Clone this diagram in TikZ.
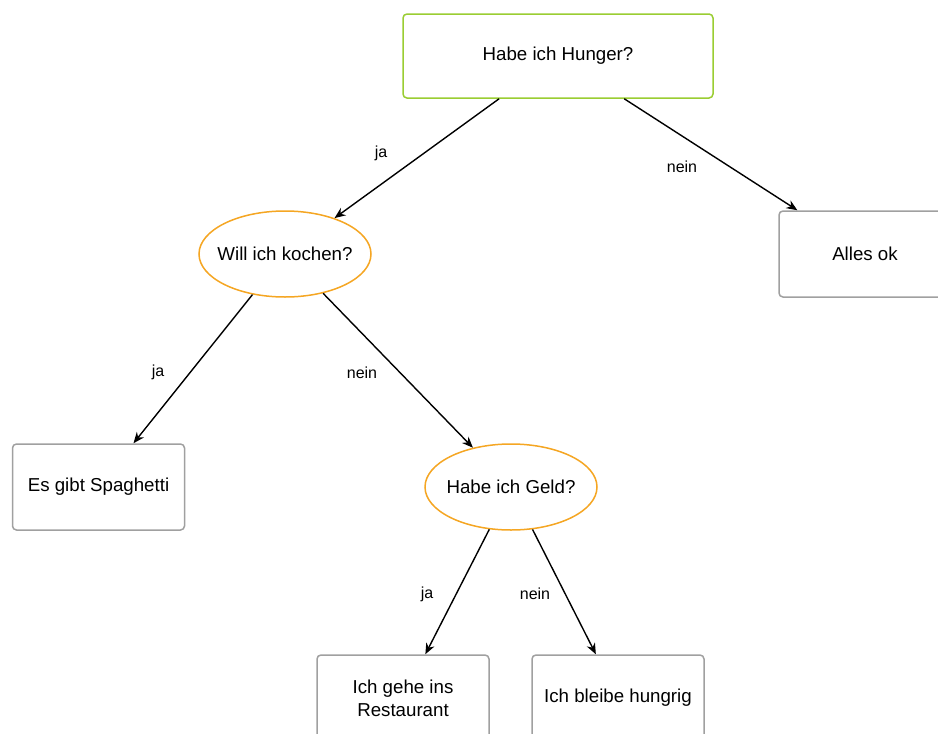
\documentclass[tikz,border=0pt]{standalone}
\usepackage{fontspec}
\setmainfont{Liberation Sans}
\usetikzlibrary{arrows.meta,shapes.geometric}
\definecolor{boxgray}{HTML}{A0A0A0}
\definecolor{startgreen}{HTML}{9ACD32}
\definecolor{askorange}{HTML}{F5A623}
% zero-width label so the ellipse keeps its fixed size
\newcommand\asktext[1]{\makebox[0pt]{#1}}
\tikzset{
  box/.style={draw=boxgray, line width=1.5pt, rounded corners=4pt, fill=white,
    minimum width=172pt, minimum height=86pt, align=center, inner sep=2pt,
    font=\fontsize{18.7}{23}\selectfont},
  startbox/.style={box, draw=startgreen, minimum width=310pt, minimum height=84pt},
  question/.style={ellipse, draw=askorange, line width=1.5pt, fill=white,
    minimum width=172pt, minimum height=86pt, inner sep=0pt,
    font=\fontsize{18.7}{23}\selectfont},
  link/.style={draw=black, line width=1.4pt, -{Stealth[length=11pt, width=9pt]}},
  answer/.style={font=\fontsize{16}{19}\selectfont, inner sep=0pt}
}
\begin{document}
\begin{tikzpicture}[x=1pt, y=-1pt]
  \useasboundingbox (0,0) rectangle (938,734);
  \clip (0,0) rectangle (938,734);

  % decision nodes and outcomes
  \node[startbox] (hunger) at (558,56) {Habe ich Hunger?};
  \node[box] (ok) at (865,254) {Alles ok};
  \node[question] (kochen) at (285,254) {\asktext{Will ich kochen?}};
  \node[box] (spaghetti) at (98.5,487) {Es gibt Spaghetti};
  \node[question] (geld) at (511,487) {\asktext{Habe ich Geld?}};
  \node[box] (restaurant) at (403,698) {Ich gehe ins\\Restaurant};
  \node[box] (hungrig) at (618,698) {Ich bleibe hungrig};

  % connectors
  \draw[link] (hunger) -- (kochen);
  \draw[link] (hunger) -- (ok);
  \draw[link] (kochen) -- (spaghetti);
  \draw[link] (kochen) -- (geld);
  \draw[link] (geld) -- (restaurant);
  \draw[link] (geld) -- (hungrig);

  % answer labels
  \node[answer] (a1) at (381,153) {ja};
  \node[answer] (a2) at (682,167) {nein};
  \node[answer] (a3) at (158,372) {ja};
  \node[answer] (a4) at (362,373) {nein};
  \node[answer] (a5) at (427,594) {ja};
  \node[answer] (a6) at (535,594) {nein};
\end{tikzpicture}
\end{document}
